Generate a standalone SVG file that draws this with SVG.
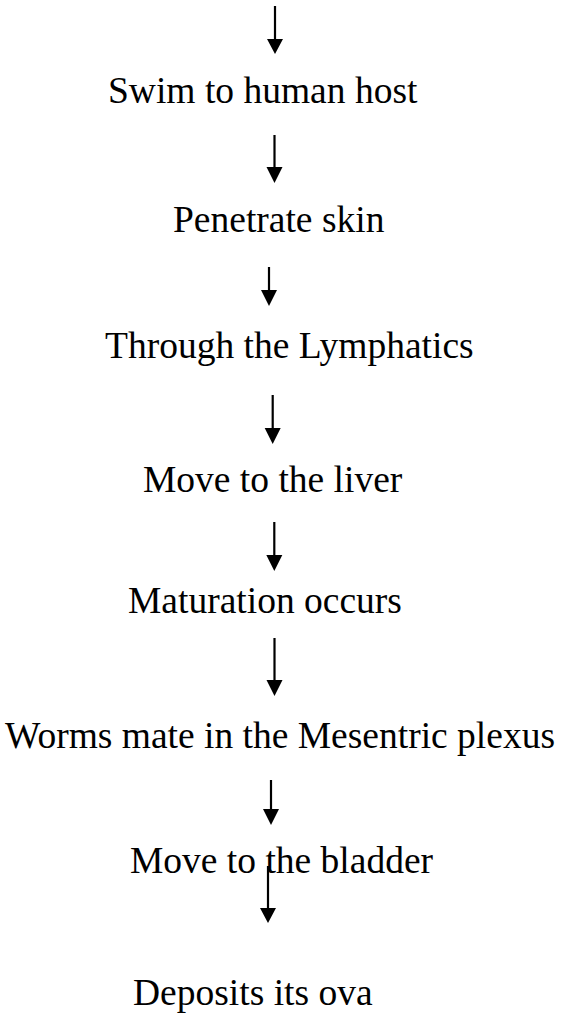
<svg xmlns="http://www.w3.org/2000/svg" width="567" height="1015" viewBox="0 0 567 1015">
<style>
.t{font-family:"Liberation Serif","Times New Roman",serif;font-size:37.5px;fill:#000}
.l{stroke:#000;stroke-width:2.2;fill:none}
.h{fill:#000}
</style>
<rect width="567" height="1015" fill="#fff"/>
<g id="connectors">
<g><line class="l" x1="275" y1="6" x2="275" y2="42"/><polygon class="h" points="267,39 283,39 275,54"/></g>
<g><line class="l" x1="274.5" y1="135" x2="274.5" y2="170"/><polygon class="h" points="266.5,167 282.5,167 274.5,183"/></g>
<g><line class="l" x1="269" y1="267" x2="269" y2="293"/><polygon class="h" points="261,290 277,290 269,306"/></g>
<g><line class="l" x1="272.7" y1="395" x2="272.7" y2="431"/><polygon class="h" points="264.7,428 280.7,428 272.7,444"/></g>
<g><line class="l" x1="274.3" y1="522" x2="274.3" y2="558"/><polygon class="h" points="266.3,555 282.3,555 274.3,571"/></g>
<g><line class="l" x1="274.5" y1="638" x2="274.5" y2="683"/><polygon class="h" points="266.5,680 282.5,680 274.5,696"/></g>
<g><line class="l" x1="271" y1="780" x2="271" y2="812"/><polygon class="h" points="263,809 279,809 271,825"/></g>
<g><line class="l" x1="268" y1="866" x2="268" y2="911"/><polygon class="h" points="260,908 276,908 268,923"/></g>
</g>
<g id="n1"><text class="t" x="108" y="103">Swim to human host</text></g>
<g id="n2"><text class="t" x="173" y="232">Penetrate skin</text></g>
<g id="n3"><text class="t" x="105" y="358">Through the Lymphatics</text></g>
<g id="n4"><text class="t" x="143" y="492">Move to the liver</text></g>
<g id="n5"><text class="t" x="128" y="613">Maturation occurs</text></g>
<g id="n6"><text class="t" x="5" y="748">Worms mate in the Mesentric plexus</text></g>
<g id="n7"><text class="t" x="130" y="873">Move to the bladder</text></g>
<g id="n8"><text class="t" x="133" y="1005">Deposits its ova</text></g>
</svg>
